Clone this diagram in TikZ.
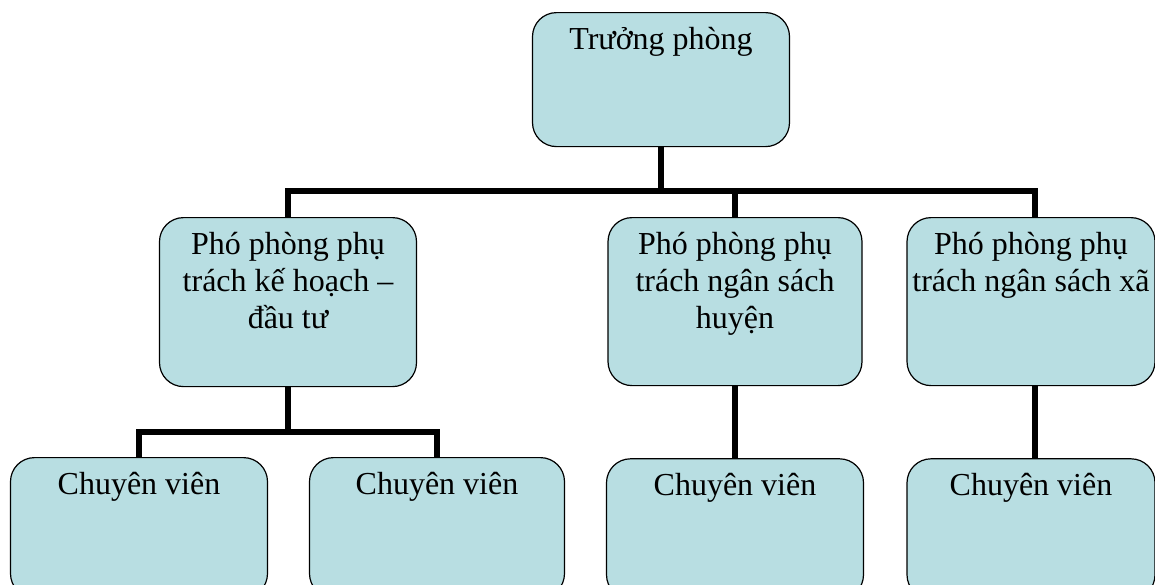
\documentclass[tikz,border=0pt]{standalone}
\usepackage{fontspec}
\setmainfont{Liberation Serif}
\usetikzlibrary{positioning}

\definecolor{boxfill}{RGB}{184,222,226}
% text sits at the top of each box
\newcommand{\boxtext}[3]{\parbox[t][#2][t]{#1}{\centering\rule{0pt}{37pt}#3}}

\begin{document}
\begin{tikzpicture}[
    x = 1pt,
    y = -1pt,
    node distance = 72pt,
    orgbox/.style = {draw=black, line width=1.2pt, fill=boxfill,
        rounded corners=24pt, inner sep=0pt, anchor=north,
        font=\fontsize{32}{37}\selectfont},
    link/.style = {line width=6pt, draw=black}
]

\useasboundingbox (0,0) rectangle (1155,584);
\clip (0,0) rectangle (1155,584);

% Setup the boxes
\node[orgbox] (tp) at (661,12) {\boxtext{257pt}{134pt}{Trưởng phòng}};

\node[orgbox] (p1) at (288,217) {\boxtext{257pt}{169pt}{Phó phòng phụ\\trách kế hoạch –\\đầu tư}};
\node[orgbox] (p2) at (735,217) {\boxtext{254pt}{168pt}{Phó phòng phụ\\trách ngân sách\\huyện}};
\node[orgbox] (p3) at (1031,217) {\boxtext{248pt}{168pt}{Phó phòng phụ\\trách ngân sách xã}};

\node[orgbox] (c1) at (139,457) {\boxtext{257pt}{140pt}{Chuyên viên}};
\node[orgbox] (c2) at (437,457) {\boxtext{255pt}{140pt}{Chuyên viên}};
\node[orgbox, below=of p2] (c3) {\boxtext{257pt}{140pt}{Chuyên viên}};
\node[orgbox, below=of p3] (c4) {\boxtext{248pt}{140pt}{Chuyên viên}};

% Draw the connectors
\draw[link] (tp.south) -- ++(0,44) coordinate (bus);
\draw[link] (bus) -| (p1.north);
\draw[link] (bus) -| (p2.north);
\draw[link] (bus) -| ([xshift=4pt]p3.north);

\draw[link] (p1.south) -- ++(0,45) coordinate (sub);
\draw[link] (sub) -| (c1.north);
\draw[link] (sub) -| (c2.north);
\draw[link] (p2.south) -- (c3.north);
\draw[link] ([xshift=4pt]p3.south) -- ([xshift=4pt]c4.north);

\end{tikzpicture}
\end{document}
